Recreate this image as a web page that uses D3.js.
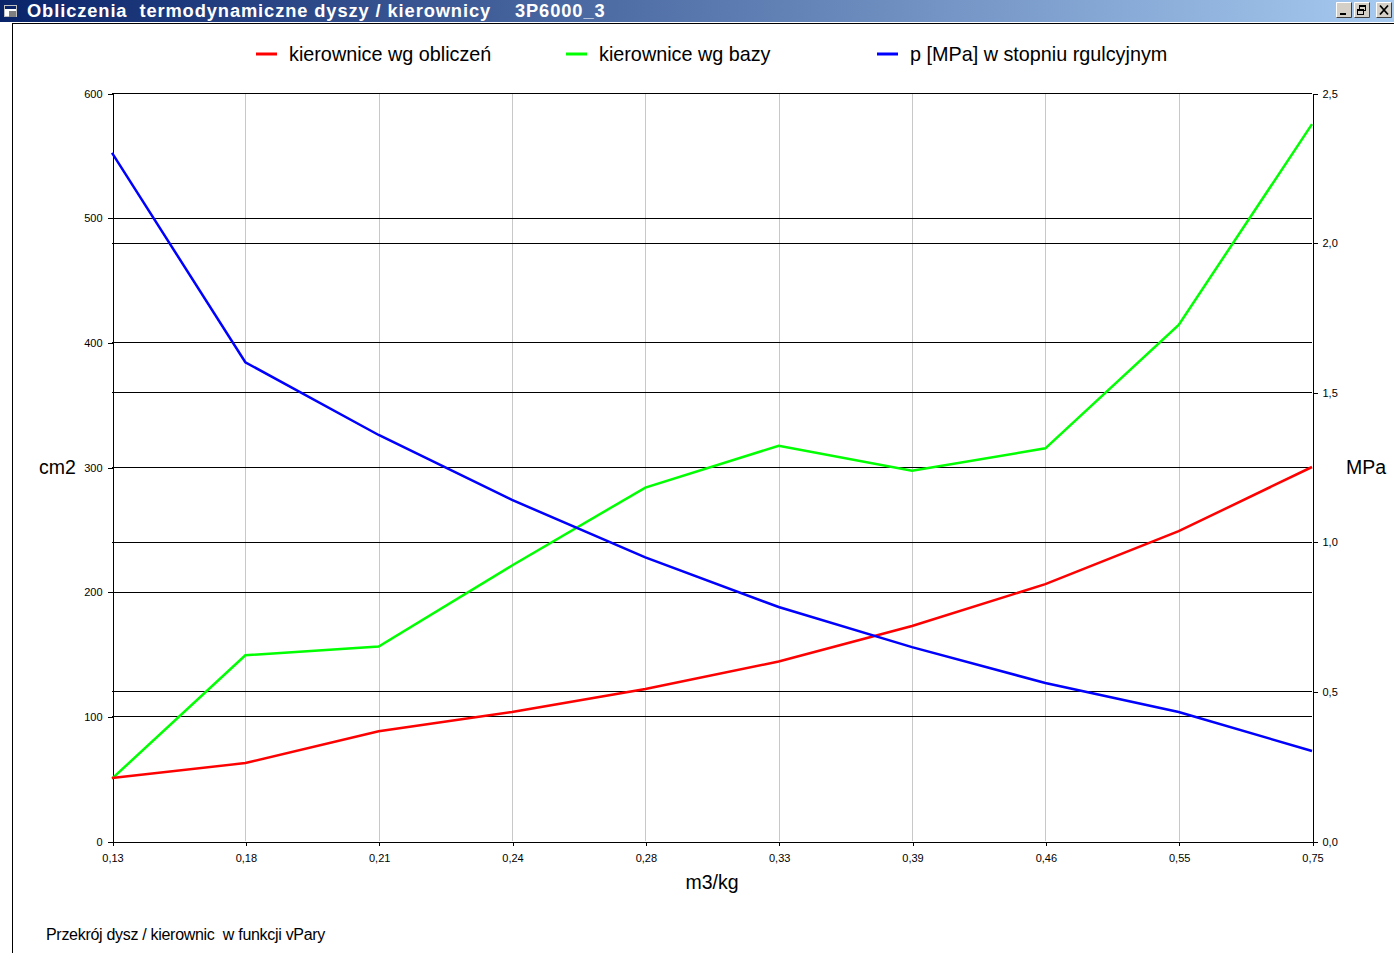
<!DOCTYPE html>
<html><head><meta charset="utf-8">
<script src="https://cdn.jsdelivr.net/npm/d3@7"></script>
<style>
html,body{margin:0;padding:0;background:#fff;overflow:hidden}
svg{display:block}
text.pre{white-space:pre}
</style></head><body>
<script>
const categories = ["0,13","0,18","0,21","0,24","0,28","0,33","0,39","0,46","0,55","0,75"];
const kierObliczen = [50.5, 62.5, 88, 103.5, 122, 144, 172.5, 206, 248.5, 300];
const kierBazy = [50, 149, 156, 221, 283.5, 317, 297, 315, 414, 575];
const pStopien = [2.30, 1.60, 1.357, 1.14, 0.948, 0.782, 0.648, 0.528, 0.431, 0.301];
const leftTicks = [0,100,200,300,400,500,600];
const rightTicks = [0,0.5,1.0,1.5,2.0,2.5];
const seriesNames = ["kierownice wg obliczeń","kierownice wg bazy","p [MPa] w stopniu rgulcyjnym"];
const seriesColors = ["#ff0000","#00ff00","#0000ff"];

const W = 1394, H = 953;
const svg = d3.select("body").append("svg").attr("width", W).attr("height", H);

// window chrome
const defs = svg.append("defs");
const grad = defs.append("linearGradient").attr("id","tb").attr("x1","0").attr("x2","1");
grad.append("stop").attr("offset","0").attr("stop-color","#0a246a");
grad.append("stop").attr("offset","1").attr("stop-color","#a6caf0");
svg.append("rect").attr("x",0).attr("y",0).attr("width",W).attr("height",22).attr("fill","url(#tb)");
// icon
const ic = svg.append("g").attr("transform","translate(4,4)");
ic.append("rect").attr("x",0.5).attr("y",1.5).attr("width",12).attr("height",11).attr("fill","#fff").attr("stroke","#c0c0c0");
ic.append("rect").attr("x",1).attr("y",2).attr("width",11).attr("height",3).attr("fill","#0a246a");
ic.append("rect").attr("x",5).attr("y",7).attr("width",7).attr("height",6).attr("fill","#808080");
svg.append("text").attr("class","pre").attr("x",27).attr("y",17).attr("fill","#fff")
  .attr("font-family","Liberation Sans, Arial, sans-serif").attr("font-weight","bold").attr("font-size",18.3)
  .attr("letter-spacing","0.9")
  .text("Obliczenia  termodynamiczne dyszy / kierownicy    3P6000_3");
// buttons
const btns = [{x:1336,t:"min"},{x:1354,t:"res"},{x:1376,t:"close"}];
btns.forEach(b=>{
  const g = svg.append("g").attr("transform",`translate(${b.x},2)`);
  g.append("rect").attr("width",16).attr("height",16).attr("fill","#d4d0c8");
  g.append("path").attr("d","M0.5,15.5V0.5H15.5").attr("fill","none").attr("stroke","#fff");
  g.append("path").attr("d","M0.5,15.5H15.5V0.5").attr("fill","none").attr("stroke","#404040");
  if(b.t==="min") g.append("rect").attr("x",4).attr("y",11).attr("width",6).attr("height",2).attr("fill","#000");
  if(b.t==="res"){
    g.append("rect").attr("x",5.5).attr("y",3.5).attr("width",6).attr("height",5).attr("fill","none").attr("stroke","#000");
    g.append("rect").attr("x",5).attr("y",3).attr("width",7).attr("height",2).attr("fill","#000");
    g.append("rect").attr("x",3.5).attr("y",7.5).attr("width",6).attr("height",5).attr("fill","#d4d0c8").attr("stroke","#000");
    g.append("rect").attr("x",3).attr("y",7).attr("width",7).attr("height",2).attr("fill","#000");
  }
  if(b.t==="close") g.append("path").attr("d","M4,3.5L12,12.5M12,3.5L4,12.5").attr("stroke","#000").attr("stroke-width",1.8);
});
svg.append("line").attr("x1",12).attr("x2",W).attr("y1",23.5).attr("y2",23.5).attr("stroke","#000");
svg.append("line").attr("x1",12.5).attr("x2",12.5).attr("y1",23).attr("y2",H).attr("stroke","#000");

// scales
const x = d3.scalePoint().domain(categories).range([112,1312]);
const yL = d3.scaleLinear().domain([0,600]).range([841,93]);
const yR = d3.scaleLinear().domain([0,2.5]).range([841,93]);
const font = "Liberation Sans, Arial, sans-serif";

// vertical gray grid
svg.append("g").selectAll("line").data(categories.slice(1,-1)).join("line")
  .attr("x1",d=>Math.round(x(d))+0.5).attr("x2",d=>Math.round(x(d))+0.5)
  .attr("y1",93).attr("y2",841).attr("stroke","#c8c8c8");
// horizontal grid
svg.append("g").selectAll("line").data(leftTicks.slice(1)).join("line")
  .attr("x1",112).attr("x2",1312).attr("y1",d=>Math.round(yL(d))+0.5).attr("y2",d=>Math.round(yL(d))+0.5)
  .attr("stroke","#000");
svg.append("g").selectAll("line").data(rightTicks.slice(1)).join("line")
  .attr("x1",112).attr("x2",1312).attr("y1",d=>Math.round(yR(d))+0.5).attr("y2",d=>Math.round(yR(d))+0.5)
  .attr("stroke","#000");

// axes
function style(g){
  g.selectAll("text").attr("font-family",font).attr("font-size",11).attr("fill","#000");
  g.selectAll("line,path").attr("stroke","#000").attr("shape-rendering","crispEdges");
}
svg.append("g").attr("transform","translate(112.5,0.5)")
  .call(d3.axisLeft(yL).tickValues(leftTicks).tickFormat(d=>String(d)).tickSize(5).tickPadding(5).tickSizeOuter(0))
  .call(style);
svg.append("g").attr("transform","translate(1312.5,0.5)")
  .call(d3.axisRight(yR).tickValues(rightTicks).tickFormat(d=>d3.format(".1f")(d).replace(".",",")).tickSize(5).tickPadding(5).tickSizeOuter(0))
  .call(style);
svg.append("g").attr("transform","translate(0.5,841.5)")
  .call(d3.axisBottom(x).tickSize(4).tickPadding(9).tickSizeOuter(0))
  .call(style);

// lines
const lineL = d3.line().x((d,i)=>x(categories[i])).y(d=>yL(d));
const lineR = d3.line().x((d,i)=>x(categories[i])).y(d=>yR(d));
svg.append("path").datum(kierBazy).attr("d",lineL).attr("fill","none").attr("stroke",seriesColors[1]).attr("stroke-width",2.5);
svg.append("path").datum(kierObliczen).attr("d",lineL).attr("fill","none").attr("stroke",seriesColors[0]).attr("stroke-width",2.5);
svg.append("path").datum(pStopien).attr("d",lineR).attr("fill","none").attr("stroke",seriesColors[2]).attr("stroke-width",2.5);

// legend
const legX = [256,566,877];
seriesNames.forEach((n,i)=>{
  svg.append("line").attr("x1",legX[i]).attr("x2",legX[i]+21).attr("y1",54).attr("y2",54)
    .attr("stroke",seriesColors[i]).attr("stroke-width",3);
  svg.append("text").attr("x",legX[i]+33).attr("y",61).attr("font-family",font).attr("font-size",19.8).text(n);
});

// axis titles
svg.append("text").attr("x",39).attr("y",474).attr("font-family",font).attr("font-size",19.5).text("cm2");
svg.append("text").attr("x",1346).attr("y",474).attr("font-family",font).attr("font-size",19.5).text("MPa");
svg.append("text").attr("x",712).attr("y",889).attr("text-anchor","middle").attr("font-family",font).attr("font-size",19.5).text("m3/kg");
svg.append("text").attr("class","pre").attr("x",46).attr("y",940).attr("font-family",font).attr("font-size",16).attr("letter-spacing","-0.3")
  .text("Przekrój dysz / kierownic  w funkcji vPary");
</script>
</body></html>
